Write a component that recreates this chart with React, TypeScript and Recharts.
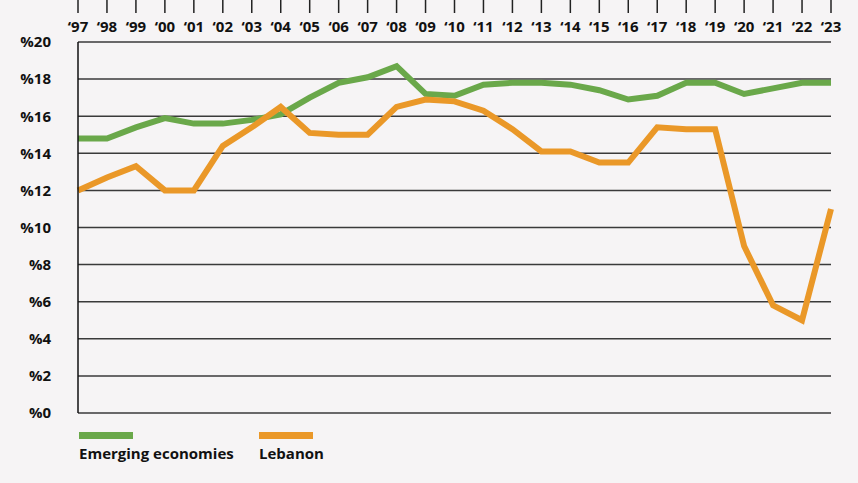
// Savings rate chart: Emerging economies vs Lebanon, 1997–2023.
import { LineChart, Line, XAxis, YAxis, CartesianGrid, Legend } from 'recharts';

const YEARS = [
  '‘97', '‘98', '‘99', '‘00', '‘01', '‘02', '‘03', '‘04', '‘05', '‘06', '‘07', '‘08', '‘09',
  '‘10', '‘11', '‘12', '‘13', '‘14', '‘15', '‘16', '‘17', '‘18', '‘19', '‘20', '‘21', '‘22', '‘23',
];

const EMERGING = [
  14.8, 14.8, 15.4, 15.9, 15.6, 15.6, 15.8, 16.1, 17.0, 17.8, 18.1, 18.7, 17.2,
  17.1, 17.7, 17.8, 17.8, 17.7, 17.4, 16.9, 17.1, 17.8, 17.8, 17.2, 17.5, 17.8, 17.8,
];

const LEBANON = [
  12.0, 12.7, 13.3, 12.0, 12.0, 14.4, 15.4, 16.5, 15.1, 15.0, 15.0, 16.5, 16.9,
  16.8, 16.3, 15.3, 14.1, 14.1, 13.5, 13.5, 15.4, 15.3, 15.3, 9.0, 5.8, 5.0, 11.0,
];

const Y_TICKS = [0, 2, 4, 6, 8, 10, 12, 14, 16, 18, 20];

const GREEN = '#6aa84a';
const ORANGE = '#ea9828';
const FONT = '"Open Sans", sans-serif';

const data = YEARS.map((year, i) => ({
  year,
  emerging: EMERGING[i],
  lebanon: LEBANON[i],
}));

function TopTick({ x, payload }: any) {
  return (
    <g>
      <line x1={x} x2={x} y1={0} y2={13} stroke="#222" strokeWidth={1.5} />
      <text
        x={x}
        y={32}
        textAnchor="middle"
        fill="#111"
        fontFamily={FONT}
        fontWeight={700}
        fontSize={15}
      >
        {payload.value}
      </text>
    </g>
  );
}

function LegendContent({ payload }: any) {
  return (
    <div style={{ position: 'relative', height: 40 }}>
      {(payload || []).map((p: any, i: number) => (
        <div
          key={p.value}
          style={{ position: 'absolute', left: i * 180, top: 0, fontFamily: FONT }}
        >
          <div style={{ width: 54, height: 7, background: p.color }} />
          <div
            style={{
              marginTop: 4,
              fontSize: 15,
              fontWeight: 700,
              color: '#111',
              whiteSpace: 'nowrap',
            }}
          >
            {p.value}
          </div>
        </div>
      ))}
    </div>
  );
}

export default function App() {
  return (
    <div
      style={{
        position: 'fixed',
        left: 0,
        top: 0,
        width: 858,
        height: 483,
        background: '#f6f4f5',
      }}
    >
      <LineChart
        width={858}
        height={483}
        data={data}
        margin={{ top: 0, right: 27, bottom: 70, left: 18 }}
      >
        <CartesianGrid vertical={false} stroke="#3a3a3a" strokeWidth={1.5} />
        <XAxis
          dataKey="year"
          orientation="top"
          height={42}
          axisLine={false}
          tickLine={false}
          interval={0}
          tick={<TopTick />}
        />
        <YAxis
          domain={[0, 20]}
          ticks={Y_TICKS}
          width={60}
          interval={0}
          tickFormatter={(v: number) => `%${v}`}
          axisLine={{ stroke: '#111', strokeWidth: 1.5 }}
          tickLine={false}
          tickMargin={21}
          tick={{ fill: '#111', fontFamily: FONT, fontWeight: 700, fontSize: 15 }}
        />
        <Legend
          layout="horizontal"
          verticalAlign="middle"
          align="center"
          wrapperStyle={{ top: 432, left: 79, width: 500 }}
          content={<LegendContent />}
        />
        <Line
          name="Emerging economies"
          dataKey="emerging"
          stroke={GREEN}
          strokeWidth={6}
          dot={false}
          strokeLinejoin="miter"
          isAnimationActive={false}
        />
        <Line
          name="Lebanon"
          dataKey="lebanon"
          stroke={ORANGE}
          strokeWidth={6}
          dot={false}
          strokeLinejoin="miter"
          isAnimationActive={false}
        />
      </LineChart>
    </div>
  );
}
